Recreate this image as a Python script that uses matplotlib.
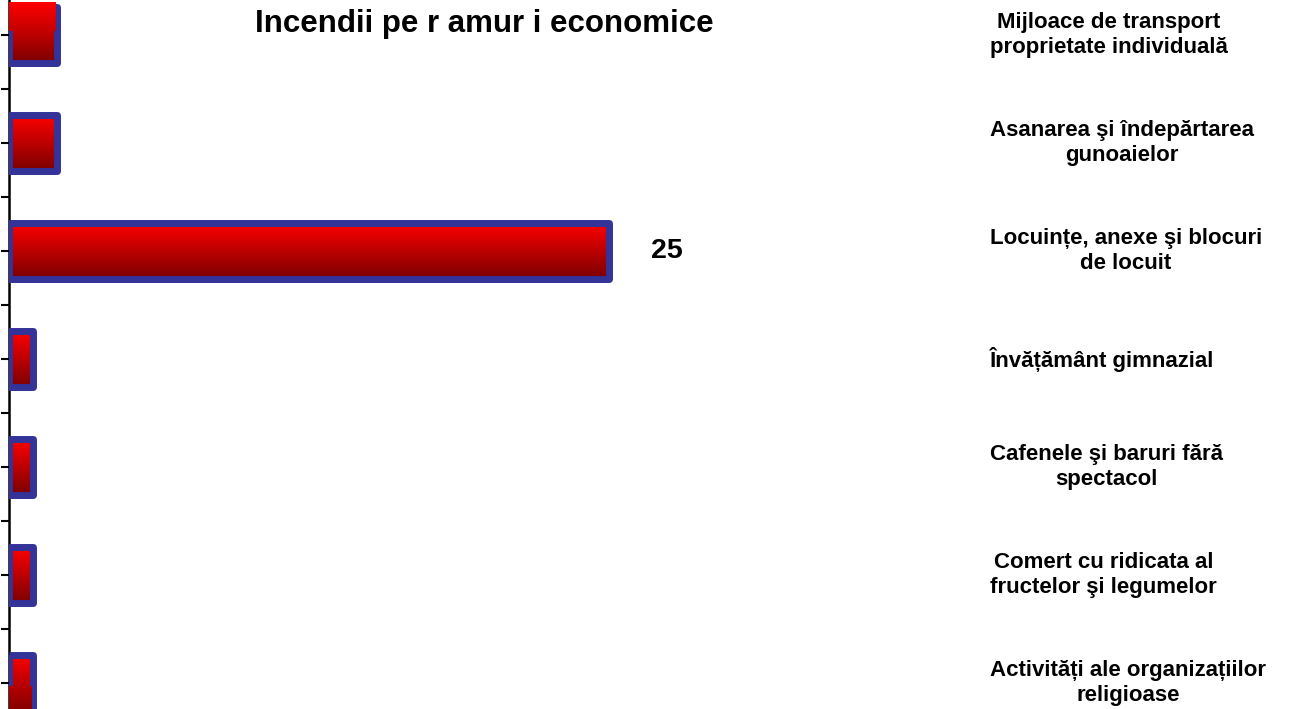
import matplotlib.pyplot as plt
import matplotlib.transforms as mtransforms
import numpy as np
from matplotlib.colors import LinearSegmentedColormap

categories = [
    "Mijloace de transport\nproprietate individuală",
    "Asanarea şi îndepărtarea\ngunoaielor",
    "Locuințe, anexe şi blocuri\nde locuit",
    "Învățământ gimnazial",
    "Cafenele şi baruri fără\nspectacol",
    "Comert cu ridicata al\nfructelor şi legumelor",
    "Activități ale organizațiilor\nreligioase",
]
values = [2, 2, 25, 1, 1, 1, 1]
title = "Incendii pe r amur i economice"

plt.rcParams["font.family"] = ["Arimo", "Liberation Sans", "DejaVu Sans"]

red_cmap = LinearSegmentedColormap.from_list("red_grad", ["#ff0000", "#7a0000"])


def gradient_fill(ax, x0, x1, y_top, y_bottom, c0=0.0, c1=1.0, z=2):
    # y axis is inverted, so the top row of the image sits at y_top
    img = np.linspace(c0, c1, 256).reshape(-1, 1)
    ax.imshow(img, cmap=red_cmap, vmin=0, vmax=1, aspect="auto",
              extent=(x0, x1, y_bottom, y_top), origin="upper",
              interpolation="bilinear", zorder=z)


fig = plt.figure(figsize=(12.9, 7.09), dpi=100)
ax = fig.add_axes([9 / 1290, -28 / 709, 960 / 1290, 756 / 709])

pos = np.arange(len(values))
bar_h = 0.52

for p, v in zip(pos, values):
    gradient_fill(ax, 0, v, p - bar_h / 2, p + bar_h / 2)

bars = ax.barh(pos, values, height=bar_h, facecolor="none",
               edgecolor="#333399", linewidth=5, zorder=3)
for b in bars:
    b.set_joinstyle("round")

# leftover fill pieces above the first bar and below the last one
gradient_fill(ax, -0.05, values[0] - 0.05, pos[0] - 0.3, pos[0] - 0.04, 0.0, 0.45, z=4)
gradient_fill(ax, -0.05, values[-1] - 0.05, pos[-1] + 0.04, pos[-1] + 0.3, 0.55, 1.0, z=4)

vmax = max(values)
i_max = values.index(vmax)
ax.text(vmax + 2.4, pos[i_max], str(vmax), ha="center", va="center",
        fontsize=20.5, fontweight="bold")

ax.set_xlim(0, 40)
ax.set_ylim(len(values) - 0.5, -0.5)
ax.set_yticks(np.arange(-0.5, len(values), 0.5))
ax.set_yticklabels([])
ax.set_xticks([])
ax.tick_params(axis="y", direction="out", length=6, width=1.5, color="black")
for side in ["top", "right", "bottom"]:
    ax.spines[side].set_visible(False)
ax.spines["left"].set_linewidth(1.8)
ax.patch.set_visible(False)

trans = mtransforms.blended_transform_factory(fig.transFigure, ax.transData)
for p, label in zip(pos, categories):
    ax.text(990 / 1290, p, label, transform=trans, ha="left", va="center",
            multialignment="center", fontsize=16, fontweight="bold",
            linespacing=1.3, clip_on=False)

fig.text(484 / 1290, 1 - 32 / 709, title, ha="center", va="baseline",
         fontsize=22.5, fontweight="bold")

fig.savefig("out.png", dpi=100)
plt.close()
